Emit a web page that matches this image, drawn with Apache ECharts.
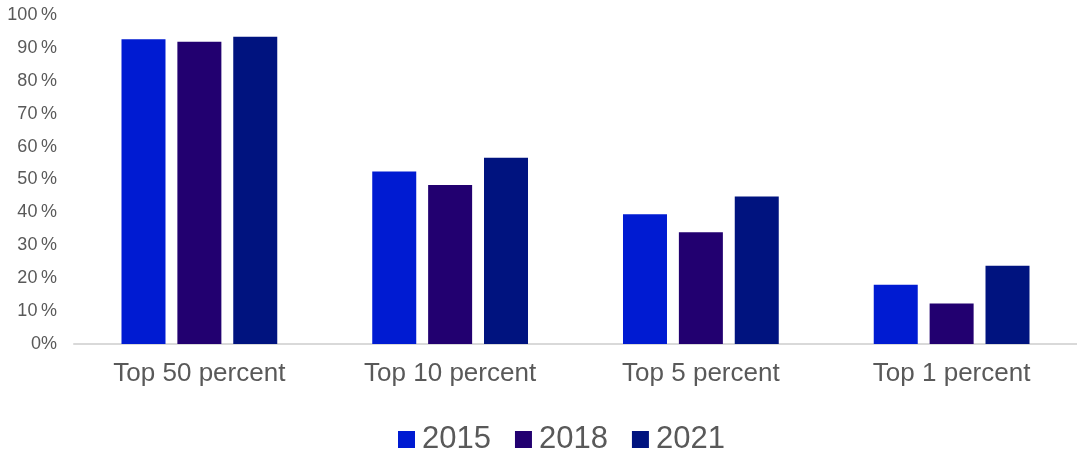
<!DOCTYPE html>
<html>
<head>
<meta charset="utf-8">
<script src="https://cdn.jsdelivr.net/npm/echarts@6/dist/echarts.min.js"></script>
<style>html,body{margin:0;padding:0;background:#fff;}#c{width:1077px;height:454px;}</style>
</head>
<body>
<div id="c"></div>
<script>
const categories = ["Top 50 percent", "Top 10 percent", "Top 5 percent", "Top 1 percent"];
const years = ["2015", "2018", "2021"];
const v2015 = [92.6, 52.4, 39.4, 18.0];
const v2018 = [91.9, 48.3, 34.0, 12.3];
const v2021 = [93.4, 56.6, 44.8, 23.8];
const colors = ["#001BD2", "#220070", "#00137F"];
const font = "Liberation Sans, Arial, sans-serif";
const chart = echarts.init(document.getElementById('c'));
const seriesData = [v2015, v2018, v2021];
chart.setOption({
  animation: false,
  grid: {left: 74, right: 0, top: 15, bottom: 110},
  legend: {
    data: years, left: 393, top: 419, itemWidth: 17, itemHeight: 17, itemGap: 24,
    icon: 'rect',
    textStyle: {color: '#595959', fontSize: 31, fontFamily: font, padding: [0,0,0,2]}
  },
  xAxis: {
    type: 'category', data: categories,
    axisLine: {lineStyle: {color: '#d9d9d9', width: 2}},
    axisTick: {show: false},
    axisLabel: {color: '#595959', fontSize: 26, fontFamily: font, margin: 17}
  },
  yAxis: {
    type: 'value', min: 0, max: 100, interval: 10,
    splitLine: {show: false},
    axisLine: {show: false}, axisTick: {show: false},
    axisLabel: {color: '#595959', fontSize: 18, fontFamily: font, margin: 17,
      formatter: v => v === 0 ? '0%' : v + '\u2009%'}
  },
  series: years.map((y, i) => ({
    name: y, type: 'bar', data: seriesData[i],
    barWidth: 44, barGap: '27%',
    itemStyle: {color: colors[i]}
  }))
});
</script>
</body>
</html>
